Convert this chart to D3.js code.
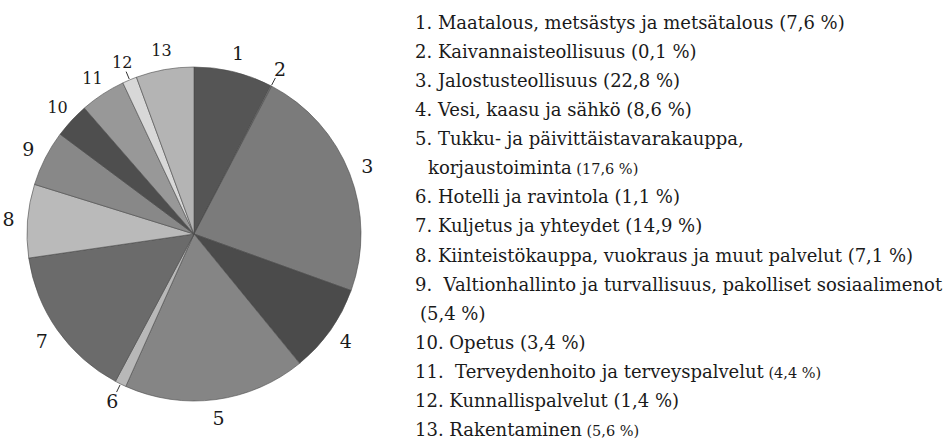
<!DOCTYPE html>
<html>
<head>
<meta charset="utf-8">
<script src="https://cdn.jsdelivr.net/npm/d3@7"></script>
<style>
  body { margin: 0; background: #fff; }
  text { font-family: "DejaVu Serif", serif; fill: #1a1a1a; white-space: pre; }
</style>
</head>
<body>
<div id="chart"></div>
<script>
// sector data
let sectors = [1, 2, 3, 4, 5, 6, 7, 8, 9, 10, 11, 12, 13];
let shares = [7.6, 0.1, 22.8, 8.6, 17.6, 1.1, 14.9, 7.1, 5.4, 3.4, 4.4, 1.4, 5.6];
// legend names, one entry per printed line
let names = [
  ["Maatalous, metsästys ja metsätalous"],
  ["Kaivannaisteollisuus"],
  ["Jalostusteollisuus"],
  ["Vesi, kaasu ja sähkö"],
  ["Tukku- ja päivittäistavarakauppa,", "korjaustoiminta"],
  ["Hotelli ja ravintola"],
  ["Kuljetus ja yhteydet"],
  ["Kiinteistökauppa, vuokraus ja muut palvelut"],
  [" Valtionhallinto ja turvallisuus, pakolliset sosiaalimenot", ""],
  ["Opetus"],
  [" Terveydenhoito ja terveyspalvelut"],
  ["Kunnallispalvelut"],
  ["Rakentaminen"]
];
let greys = ["#555555", "#8a8a8a", "#7b7b7b", "#4b4b4b", "#858585", "#b8b8b8", "#6b6b6b",
  "#bababa", "#888888", "#4e4e4e", "#989898", "#d8d8d8", "#b4b4b4"];
// small print percentages and the ones with a leader line
let smallPct = [5, 11, 13];
let leaders = [2, 6, 12];

let width = 945, height = 440;
let cx = 194, cy = 234, radius = 167;

let svg = d3.select("#chart").append("svg")
  .attr("width", width)
  .attr("height", height);

let pie = d3.pie().sort(null).value(d => d.v);
let arcs = pie(sectors.map((s, i) => ({ id: s, v: shares[i] })));
let arc = d3.arc().innerRadius(0).outerRadius(radius);
let color = d3.scaleOrdinal().domain(sectors).range(greys);

let g = svg.append("g").attr("transform", "translate(" + cx + "," + cy + ")");

g.selectAll("path.slice")
  .data(arcs)
  .enter()
  .append("path")
  .attr("class", "slice")
  .attr("d", arc)
  .attr("fill", d => color(d.data.id))
  .attr("stroke", "#4a4a4a")
  .attr("stroke-width", 0.6);

let mid = d => (d.startAngle + d.endAngle) / 2;

// short ticks for thin slices
g.selectAll("line.leader")
  .data(arcs.filter(d => leaders.includes(d.data.id)))
  .enter()
  .append("line")
  .attr("x1", d => Math.sin(mid(d)) * (radius + 1))
  .attr("y1", d => -Math.cos(mid(d)) * (radius + 1))
  .attr("x2", d => Math.sin(mid(d)) * (radius + 9))
  .attr("y2", d => -Math.cos(mid(d)) * (radius + 9))
  .attr("stroke", "#333")
  .attr("stroke-width", 1);

let labelR = radius + 19;
g.selectAll("text.num")
  .data(arcs)
  .enter()
  .append("text")
  .attr("class", "num")
  .attr("x", d => Math.sin(mid(d)) * labelR)
  .attr("y", d => -Math.cos(mid(d)) * labelR)
  .attr("dy", "0.35em")
  .attr("text-anchor", "middle")
  .style("font-size", d => (d.data.id >= 10 ? "16px" : "19px"))
  .text(d => d.data.id);

// legend
let legendX = 415, firstBase = 29, lineGap = 29.07;
let lines = [];
sectors.forEach((s, i) => {
  let pct = "(" + shares[i].toFixed(1).replace(".", ",") + " %)";
  names[i].forEach((part, j) => {
    let last = j === names[i].length - 1;
    lines.push({
      id: s,
      first: j === 0,
      text: (j === 0 ? s + ". " : "") + part,
      pct: last ? pct : null,
      small: smallPct.includes(s)
    });
  });
});

let legend = svg.append("g").attr("class", "legend");
let rows = legend.selectAll("text")
  .data(lines)
  .enter()
  .append("text")
  .attr("x", d => (d.first ? legendX : d.text === "" ? legendX + 5 : legendX + 13))
  .attr("y", (d, i) => firstBase + i * lineGap)
  .style("font-size", "18px");

rows.append("tspan").text(d => d.text);
rows.filter(d => d.pct)
  .append("tspan")
  .style("font-size", d => (d.small ? "14.5px" : "18px"))
  .text(d => (d.text === "" ? "" : " ") + d.pct);
</script>
</body>
</html>
